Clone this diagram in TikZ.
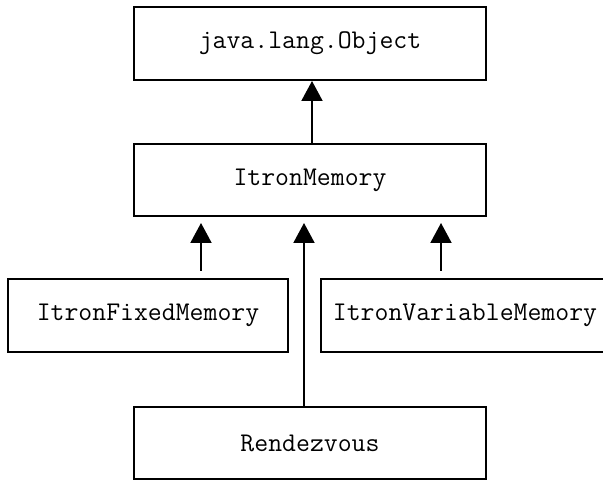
\documentclass[tikz,border=0pt]{standalone}
\usepackage{fontspec}
\usetikzlibrary{arrows.meta}
\tikzset{
  classbox/.style={draw, line width=2pt, inner sep=0pt, minimum height=72pt,
    font=\ttfamily\fontsize{27}{31}\selectfont},
  inherit/.style={line width=2pt, -{Triangle[length=20pt,width=21pt]}}
}
\begin{document}
\begin{tikzpicture}[x=1pt,y=-1pt]
\useasboundingbox (0,0) rectangle (603,481);
\clip (0,0) rectangle (603,481);
\node[classbox, minimum width=352pt, minimum height=73pt] (obj) at (310,43.5) {java.lang.Object};
\node[classbox, minimum width=352pt] (mem) at (310,180) {ItronMemory};
\node[classbox, minimum width=280pt, minimum height=73pt] (fixed) at (148,315.5) {ItronFixedMemory};
\node[classbox, minimum width=288pt, minimum height=73pt] (var) at (465,315.5) {ItronVariableMemory};
\node[classbox, minimum width=352pt] (rend) at (310,443) {Rendezvous};
\coordinate (ftail) at (201,271);
\coordinate (ftip) at (201,223);
\coordinate (vtail) at (441,271);
\coordinate (vtip) at (441,223);
\coordinate (rtip) at (304,223);
\draw[inherit] ([xshift=2pt]mem.north) -- ([xshift=2pt]obj.south);
\draw[inherit] (ftail) -- (ftip);
\draw[inherit] (vtail) -- (vtip);
\draw[inherit] (rend.north -| rtip) -- (rtip);
\end{tikzpicture}
\end{document}
